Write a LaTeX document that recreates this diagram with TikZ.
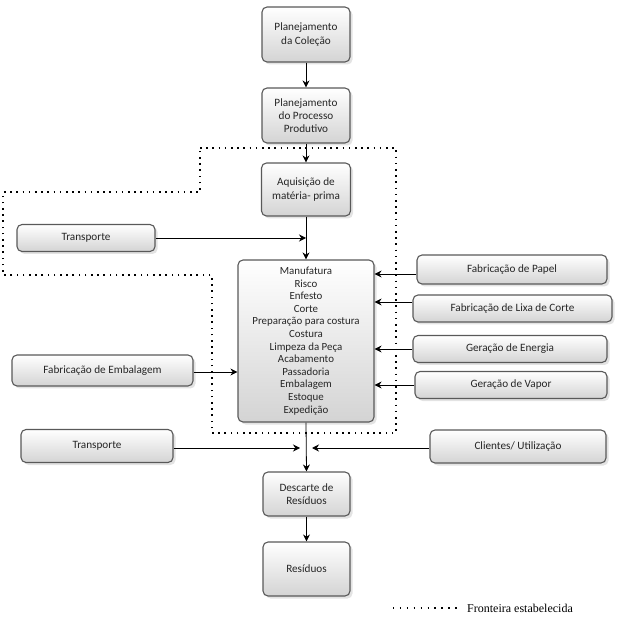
\documentclass[tikz,border=0pt]{standalone}
\usepackage{fontspec}
\newfontfamily\boxfont{Carlito}
\setmainfont{Liberation Serif}
\usetikzlibrary{arrows.meta,shadows}
\begin{document}
\begin{tikzpicture}[x=1pt,y=-1pt,
  box/.style={draw=black!65, line width=1.1pt, rounded corners=5pt,
    top color=white, bottom color=black!17,
    drop shadow={opacity=0.22, shadow xshift=2.5pt, shadow yshift=-2.5pt},
    align=center, inner sep=2pt, text=black!85,
    font=\boxfont\fontsize{11.2}{13.5}\selectfont},
  arr/.style={-{Stealth[length=7pt,width=7pt]}, line width=0.8pt, black},
  frontier/.style={line width=1.6pt, dash pattern=on 1.6pt off 4.6pt, black}]
\useasboundingbox (0,0) rectangle (621,617);

\node[box, minimum width=88pt, minimum height=55pt] (col) at (306,34.5) {Planejamento\\da Coleção};
\node[box, minimum width=88pt, minimum height=55pt, font=\boxfont\fontsize{11.2}{13}\selectfont] (proc) at (306,115.5) {Planejamento\\do Processo\\Produtivo};
\node[box, minimum width=89pt, minimum height=53pt] (aq) at (306,189.5) {Aquisição de\\matéria- prima};
\node[box, minimum width=138pt, minimum height=27pt] (tr1) at (86,238) {Transporte};
\node[box, minimum width=136pt, minimum height=162pt,
  font=\boxfont\fontsize{10.9}{12.6}\selectfont] (man) at (306,341)
  {Manufatura\\Risco\\Enfesto\\Corte\\Preparação para costura\\Costura\\Limpeza da Peça\\Acabamento\\Passadoria\\Embalagem\\Estoque\\Expedição};
\node[box, minimum width=190pt, minimum height=29pt] (papel) at (512,269.5) {Fabricação de Papel};
\node[box, minimum width=199pt, minimum height=27pt] (lixa) at (512.5,308.5) {Fabricação de Lixa de Corte};
\node[box, minimum width=194pt, minimum height=27pt] (ener) at (510,349) {Geração de Energia};
\node[box, minimum width=192pt, minimum height=27pt] (vapor) at (511,385) {Geração de Vapor};
\node[box, minimum width=181pt, minimum height=31pt] (emb) at (102.5,370.5) {Fabricação de Embalagem};
\node[box, minimum width=152pt, minimum height=33pt] (tr2) at (97,446) {Transporte};
\node[box, minimum width=176pt, minimum height=33pt] (cli) at (518,446.5) {Clientes/ Utilização};
\node[box, minimum width=87pt, minimum height=44pt] (desc) at (306.5,494) {Descarte de\\Resíduos};
\node[box, minimum width=87pt, minimum height=54pt] (res) at (306.5,569) {Resíduos};

\draw[frontier] (200,148) -- (396,148) -- (396,433) -- (212,433) -- (212,275)
  -- (3,275) -- (3,192) -- (200,192) -- cycle;

\draw[arr] (col) -- (proc);
\draw[arr] (proc) -- (aq);
\draw[arr] (aq) -- (man);
\draw[arr] (tr1.east) -- (tr1.east -| aq.south);
\draw[arr] ([yshift=-4.5pt]papel.west) -- ([yshift=-4.5pt]papel.west -| man.east);
\draw[arr] ([yshift=6.5pt]lixa.west) -- ([yshift=6.5pt]lixa.west -| man.east);
\draw[arr] (ener.west) -- (ener.west -| man.east);
\draw[arr] (vapor.west) -- (vapor.west -| man.east);
\draw[arr] ([yshift=-1.5pt]emb.east) -- ([yshift=-1.5pt]emb.east -| man.west);
\draw[arr] (man.south) -- (desc.north);
\coordinate (jl) at (300,448);
\coordinate (jr) at (312,448);
\draw[arr] ([yshift=-2pt]tr2.east) -- (jl);
\draw[arr] ([yshift=-1.5pt]cli.west) -- (jr);
\draw[arr] (desc) -- (res);

\coordinate (lg1) at (393,608);
\coordinate (lg2) at (457,608);
\draw[line width=1.4pt, dash pattern=on 1.4pt off 5.5pt] (lg1) -- (lg2);
\node[anchor=west, font=\fontsize{12}{14}\selectfont, inner sep=0pt] (lgt) at (467,608) {Fronteira estabelecida};
\end{tikzpicture}
\end{document}
